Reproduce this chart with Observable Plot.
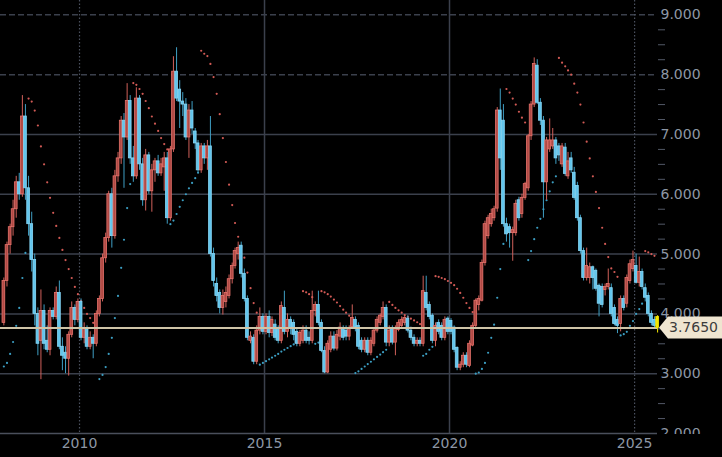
<!DOCTYPE html>
<html><head><meta charset="utf-8">
<script src="https://cdn.jsdelivr.net/npm/d3@7"></script>
<script src="https://cdn.jsdelivr.net/npm/@observablehq/plot@0.6"></script>
<style>html,body{margin:0;padding:0;background:#000;overflow:hidden}#chart{width:722px;height:457px;overflow:hidden}</style>
</head><body><div id="chart"></div>
<script>
// Monthly candles, Dec 2007 .. Aug 2025
const firstMonth = [2007, 11]; // Dec 2007 (UTC year, month index)
const open = [
  3.85,
  4.55,5.15,5.45,5.75,6.2,6.0,7.3,6.1,5.5,4.9,4.0,3.55,
  4.05,3.55,3.4,4.05,3.95,4.35,3.45,3.35,3.25,3.65,4.1,3.9,
  4.2,3.6,3.75,3.45,3.6,3.5,4.0,4.25,4.93,5.27,6.0,5.3,
  6.3,6.6,7.23,6.95,7.56,6.6,6.3,7.6,6.5,5.9,6.65,6.05,
  6.4,6.55,6.35,6.45,6.6,5.6,6.75,8.05,7.75,7.55,7.5,6.95,
  7.4,7.05,6.85,6.4,6.8,6.6,6.8,5.0,4.5,4.35,4.1,4.2,
  4.3,4.58,4.8,5.0,5.14,4.67,4.25,3.55,3.6,3.2,3.72,3.95,
  3.7,3.95,3.68,3.82,3.75,3.55,4.1,3.7,3.9,3.85,3.7,3.5,
  3.55,3.72,3.6,3.55,4.05,4.15,3.85,3.38,3.02,3.4,3.62,3.42,
  3.62,3.75,3.72,3.62,3.78,3.9,3.8,3.55,3.4,3.55,3.35,3.5,
  3.72,3.85,3.95,4.1,3.52,3.75,3.52,3.73,3.8,3.85,3.92,3.72,
  3.6,3.5,3.55,3.5,4.35,4.15,3.97,3.55,3.85,3.8,3.6,3.92,
  3.88,3.77,3.43,3.1,3.15,3.3,3.13,3.47,3.8,4.15,4.22,4.85,
  5.3,5.5,5.6,5.76,7.4,7.23,5.5,5.45,5.35,5.35,5.9,5.67,
  5.94,6.1,6.97,7.5,8.15,7.53,7.23,6.2,6.75,6.8,6.9,6.8,
  6.5,6.78,6.3,6.6,6.36,6.14,5.6,5.05,4.6,4.6,4.78,4.72,
  4.47,4.45,4.4,4.45,4.43,4.1,3.9,3.83,4.25,4.17,4.55,4.75,
  4.8,4.52,4.7,4.43,4.3,4.0,3.9,3.95
];
const high = [
  4.6,
  5.2,5.5,5.9,6.3,6.35,7.65,7.5,6.3,5.7,5.0,4.1,4.4,
  4.15,3.8,4.1,4.1,4.45,4.55,3.6,3.45,3.7,4.2,4.15,4.25,
  4.25,3.85,3.8,3.7,3.65,4.05,4.3,5.0,5.35,6.05,6.1,6.4,
  6.7,7.3,7.35,7.85,7.65,6.8,7.78,7.65,6.6,6.75,6.7,6.5,
  6.6,6.65,6.6,6.7,6.7,6.8,8.3,8.45,7.9,7.7,7.6,7.5,
  7.55,7.1,6.9,6.85,6.85,6.9,7.3,5.1,4.6,4.4,4.4,4.45,
  4.65,4.85,5.1,5.2,5.2,4.75,4.3,3.7,3.65,3.8,4.1,4.0,
  4.0,4.05,3.95,3.9,3.8,4.2,4.38,4.0,3.95,3.9,3.75,3.72,
  3.8,3.8,3.7,4.38,4.2,4.38,3.9,3.45,3.55,3.7,3.7,3.72,
  3.85,3.8,3.8,3.8,4.15,3.95,3.85,3.6,3.6,3.6,3.6,3.75,
  3.95,4.0,4.2,4.15,3.8,3.8,3.8,3.9,3.95,3.97,3.97,3.78,
  3.65,3.6,3.6,4.63,4.63,4.2,4.0,3.85,3.9,3.85,3.95,3.95,
  3.92,3.8,3.45,3.2,3.35,3.35,3.55,3.85,4.25,4.3,4.9,5.55,
  5.65,5.75,5.8,7.45,7.76,7.5,5.6,5.5,5.45,5.9,5.95,6.0,
  6.2,7.0,7.55,8.28,8.25,7.6,7.3,6.95,7.26,7.1,6.95,6.85,
  6.85,6.85,6.7,6.7,6.45,6.2,5.65,5.1,5.1,4.85,4.8,4.75,
  4.5,4.5,4.5,4.75,4.5,4.15,3.95,4.3,4.3,4.65,4.9,5.05,
  5.0,4.95,4.75,4.5,4.35,4.05,3.95,3.97
];
const low = [
  3.8,
  4.45,5.0,5.3,5.6,5.9,5.95,5.9,5.3,4.7,3.8,3.3,2.9,
  3.4,3.35,3.3,3.9,3.9,3.4,3.05,3.0,2.96,3.6,3.8,3.85,
  3.55,3.5,3.4,3.4,3.25,3.45,3.95,4.2,4.85,5.2,5.1,5.25,
  6.2,6.5,6.1,6.9,6.5,6.2,6.25,6.4,5.8,5.72,6.0,5.7,
  6.2,6.3,6.3,6.05,5.5,5.55,6.7,7.55,7.1,7.3,6.9,6.6,
  7.0,6.75,6.35,6.35,6.5,6.4,4.95,4.45,4.2,4.0,3.98,4.1,
  4.25,4.5,4.75,4.9,4.6,4.2,3.55,3.5,3.15,3.15,3.65,3.65,
  3.65,3.6,3.62,3.55,3.5,3.5,3.65,3.6,3.65,3.55,3.45,3.45,
  3.5,3.5,3.48,3.5,3.95,3.8,3.35,3.0,3.0,3.35,3.38,3.38,
  3.55,3.55,3.55,3.55,3.75,3.7,3.4,3.35,3.35,3.3,3.3,3.45,
  3.68,3.8,3.9,3.45,3.45,3.48,3.3,3.7,3.75,3.8,3.68,3.55,
  3.45,3.45,3.45,3.45,4.05,3.9,3.5,3.45,3.65,3.55,3.55,3.65,
  3.65,3.35,3.05,3.05,3.1,3.1,3.1,3.45,3.75,4.05,4.2,4.8,
  5.25,5.45,5.55,5.7,6.4,5.45,5.2,5.1,4.88,5.3,5.55,5.6,
  5.9,6.05,6.9,7.45,7.5,7.15,5.6,5.9,6.7,6.75,6.5,6.55,
  6.45,6.3,6.25,6.35,5.9,5.55,5.0,4.55,4.55,4.5,4.4,4.38,
  3.95,4.1,4.3,4.4,3.95,3.8,3.67,3.7,4.05,4.1,4.5,4.7,
  4.5,4.45,4.4,4.2,3.95,3.8,3.75,3.68
];
const close = [
  4.55,
  5.15,5.45,5.75,6.2,6.0,7.3,6.1,5.5,4.9,4.0,3.5,4.05,
  3.5,3.4,4.05,3.95,4.35,3.45,3.3,3.25,3.65,4.1,3.9,4.2,
  3.6,3.75,3.45,3.6,3.5,4.0,4.25,4.93,5.27,6.0,5.3,6.3,
  6.6,7.23,6.95,7.56,6.6,6.3,7.6,6.5,5.9,6.65,6.05,6.4,
  6.55,6.35,6.5,6.6,5.6,6.75,8.05,7.6,7.55,7.5,6.95,7.4,
  7.1,6.85,6.4,6.8,6.6,6.8,5.0,4.55,4.3,4.1,4.3,4.35,
  4.58,4.8,5.05,5.1,4.67,4.25,3.6,3.62,3.2,3.72,3.95,3.7,
  3.95,3.68,3.9,3.6,3.55,4.13,3.7,3.9,3.75,3.65,3.5,3.68,
  3.72,3.55,3.55,4.05,4.15,3.85,3.38,3.02,3.5,3.62,3.42,3.65,
  3.77,3.6,3.62,3.75,3.93,3.78,3.45,3.4,3.55,3.35,3.55,3.72,
  3.9,3.97,4.1,3.52,3.72,3.52,3.75,3.85,3.9,3.93,3.72,3.6,
  3.5,3.55,3.5,4.38,4.1,3.95,3.55,3.8,3.7,3.6,3.9,3.7,
  3.7,3.4,3.1,3.15,3.3,3.15,3.5,3.8,4.22,4.25,4.85,5.5,
  5.6,5.67,5.75,7.4,6.6,5.5,5.33,5.35,5.4,5.84,5.6,5.94,
  6.17,6.97,7.5,8.18,7.53,7.23,6.2,6.9,6.9,6.9,6.6,6.65,
  6.8,6.34,6.55,6.4,5.94,5.6,5.05,4.6,4.8,4.78,4.6,4.42,
  4.17,4.15,4.45,4.5,4.0,3.83,3.8,4.25,4.1,4.6,4.83,4.9,
  4.52,4.7,4.45,4.27,4.0,3.85,3.8,3.765
];
// Parabolic SAR, one dot per month
const sar = [
  3.12,
  3.18,3.33,3.53,3.8,4.1,4.6,5.02,7.6,7.55,7.4,7.15,6.8,
  6.5,6.2,5.94,5.69,5.47,5.27,5.07,4.9,4.75,4.6,4.45,4.33,
  4.22,4.1,4.0,3.93,3.85,3.78,2.91,2.98,3.11,3.33,3.6,3.93,
  4.3,4.77,5.24,5.77,6.17,7.86,7.83,7.76,7.68,7.56,7.44,7.3,
  7.18,7.06,6.94,6.84,6.75,5.5,5.56,5.67,5.79,5.9,6.0,6.1,
  6.19,6.27,6.36,8.4,8.35,8.31,8.18,7.96,7.68,7.34,6.94,6.54,
  6.16,5.82,5.52,5.29,5.12,4.94,4.69,4.43,4.18,4.02,3.15,3.18,
  3.21,3.24,3.27,3.3,3.33,3.37,3.4,3.43,3.46,3.49,3.52,3.55,
  4.38,4.36,4.33,4.28,3.5,3.52,4.38,4.36,4.33,4.29,4.24,4.19,
  4.13,4.07,4.02,3.97,3.93,3.01,3.04,3.08,3.12,3.16,3.2,3.24,
  3.28,3.32,3.36,3.4,4.2,4.15,4.1,4.06,4.02,3.98,3.95,3.92,
  3.89,3.86,3.83,3.3,3.33,3.4,3.45,4.63,4.62,4.6,4.58,4.55,
  4.52,4.48,4.42,4.35,4.27,4.18,4.1,4.03,3.0,3.02,3.08,3.18,
  3.35,3.6,3.82,4.27,4.75,5.17,7.76,7.7,7.6,7.5,7.38,7.28,
  7.2,4.9,5.05,5.25,5.44,5.59,5.75,5.9,6.05,6.2,6.3,8.28,
  8.2,8.14,8.07,8.0,7.85,7.7,7.5,7.2,6.88,6.6,6.3,6.04,
  5.77,5.44,5.17,4.95,4.76,4.7,4.62,3.64,3.66,3.7,3.8,3.88,
  4.0,4.08,4.17,5.05,5.03,5.0,4.97,4.93
];
const yearTicks = [2010, 2015, 2020, 2025];
const solidYears = [2015, 2020];
const dottedYears = [2010, 2025];
const priceTicks = [2, 3, 4, 5, 6, 7, 8, 9];
const dashedPrices = [8, 9];
const lastPrice = 3.765;
const lastLabel = "3.7650";

const UP_FILL = "#b04a45", UP_STROKE = "#e6726b", UP_WICK = "#d0605a";
const DN_FILL = "#62c5ec", DN_STROKE = "#88d7f6", DN_WICK = "#3f9fc4";
const SAR_UP = "#d25a55", SAR_DN = "#3b9ec2";
const GRID = "#3b404c";
const LABEL = "#8d97a5";

const start = new Date(Date.UTC(firstMonth[0], firstMonth[1], 1));
const rows = close.map((c, i) => {
  const m = d3.utcMonth.offset(start, i);
  return {
    date: d3.utcDay.offset(m, 15),
    x1: d3.utcDay.offset(m, 2),
    x2: d3.utcDay.offset(m, 29),
    open: open[i], high: high[i], low: low[i], close: c, sar: sar[i],
    up: c >= open[i]
  };
});
const past = rows.slice(0, -1);
const last = rows.slice(-1);
const yd = y => new Date(Date.UTC(y, 0, 1));
const minorTicks = d3.range(2, 9.01, 0.25).filter(v => v % 1 !== 0);

const plot = Plot.plot({
  width: 722, height: 457,
  marginLeft: 0, marginRight: 65, marginTop: 0, marginBottom: 24,
  style: {background: "#000", color: LABEL, fontFamily: "DejaVu Sans", fontSize: "14px"},
  x: {type: "utc", domain: [new Date(Date.UTC(2007, 10, 13)), new Date(Date.UTC(2025, 7, 15))], axis: null, label: null},
  y: {domain: [2, 9.24], axis: null, label: null},
  marks: [
    Plot.ruleY(priceTicks.filter(v => v > 2 && !dashedPrices.includes(v)), {y: d => d, stroke: GRID, strokeWidth: 1.5}),
    Plot.ruleY(dashedPrices, {y: d => d, stroke: GRID, strokeWidth: 1.5, strokeDasharray: "6,3"}),
    Plot.ruleX(solidYears.map(yd), {x: d => d, stroke: GRID, strokeWidth: 1.5}),
    Plot.ruleX(dottedYears.map(yd), {x: d => d, stroke: "#4a505e", strokeWidth: 1.2, strokeDasharray: "1.5,2"}),
    Plot.ruleY([2], {y: d => d, stroke: "#4a4f5b", strokeWidth: 1.5}),
    Plot.dot(past, {x: "date", y: "sar", r: 1.1, fill: d => d.sar > d.close ? SAR_UP : SAR_DN, stroke: null}),
    Plot.ruleX(past, {x: "date", y1: "low", y2: "high", stroke: d => d.up ? UP_WICK : DN_WICK, strokeWidth: 1}),
    Plot.rect(past, {x1: "x1", x2: "x2", y1: "open", y2: "close", fill: d => d.up ? UP_FILL : DN_FILL, stroke: d => d.up ? UP_STROKE : DN_STROKE, strokeWidth: 0.8}),
    Plot.ruleY([lastPrice], {y: d => d, stroke: "#cfc4a7", strokeWidth: 2}),
    Plot.ruleX(last, {x: "date", y1: "low", y2: "high", stroke: "#f3e600", strokeWidth: 1}),
    Plot.rect(last, {x1: "x1", x2: "x2", y1: "open", y2: "close", fill: "#f3e600", stroke: "#f3e600", strokeWidth: 0.8}),
    Plot.axisY(minorTicks, {anchor: "right", tickSize: 7, tickFormat: () => "", stroke: "#525866", label: null}),
    Plot.axisY(priceTicks, {anchor: "right", tickSize: 0, tickPadding: 3, tickFormat: d => d.toFixed(3), fill: LABEL, label: null}),
    Plot.axisX(yearTicks.map(yd), {anchor: "bottom", tickSize: 0, tickPadding: 5, tickFormat: d => String(d.getUTCFullYear()), fill: LABEL, label: null})
  ]
});

const svg = d3.select(plot);
// clip the bottom price label like the reference
svg.append("rect").attr("x", 658).attr("y", 434).attr("width", 64).attr("height", 23).attr("fill", "#000");
// last price tag
const yP = plot.scale("y").apply(lastPrice);
const xR = 722 - 65;
svg.append("path")
  .attr("d", `M${xR + 2},${yP} L${xR + 11},${yP - 11} L722,${yP - 11} L722,${yP + 11} L${xR + 11},${yP + 11} Z`)
  .attr("fill", "#efe5d0");
svg.append("text").attr("x", xR + 12).attr("y", yP).attr("dy", "0.35em")
  .attr("text-anchor", "start")
  .attr("fill", "#3c3c3c").attr("font-family", "DejaVu Sans").attr("font-size", 14).text(lastLabel);
document.getElementById("chart").append(plot);
</script>
</body></html>
